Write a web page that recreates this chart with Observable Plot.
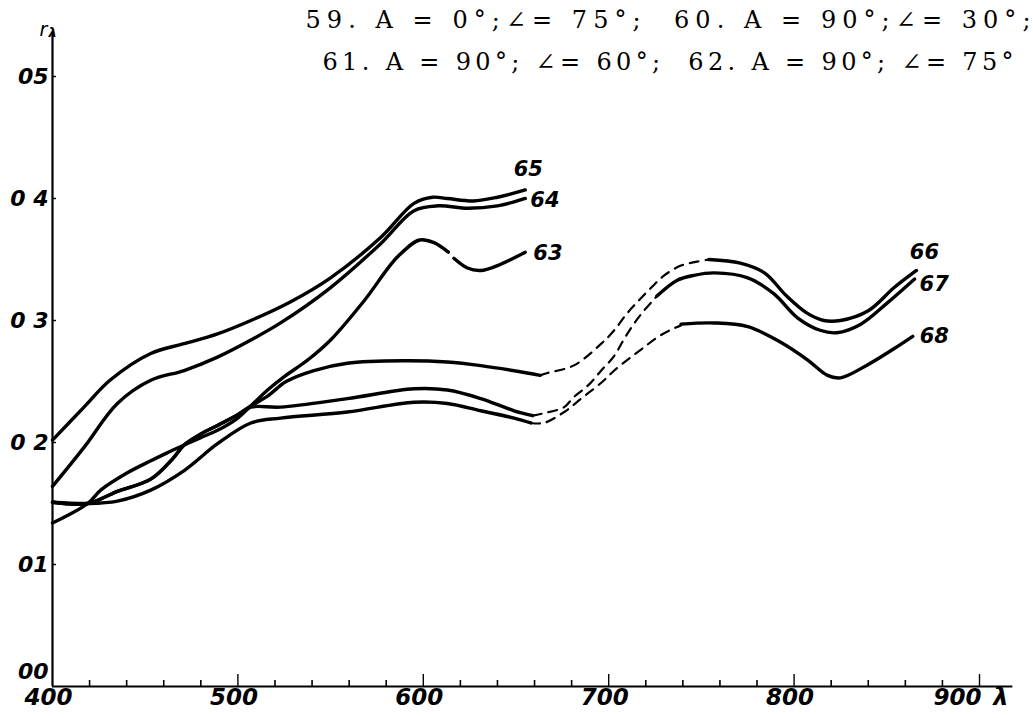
<!DOCTYPE html>
<html><head><meta charset="utf-8">
<script src="https://cdn.jsdelivr.net/npm/d3@7"></script>
<script src="https://cdn.jsdelivr.net/npm/@observablehq/plot@0.6"></script>
<style>html,body{margin:0;padding:0;background:#fff} #chart svg{display:block;background:#fff}</style>
</head><body><div id="chart"></div>
<script>
// ---- text ----
const titleLine1 = "59. A = 0°;∠= 75°;  60. A = 90°;∠= 30°;";
const titleLine2 = "61. A = 90°; ∠= 60°;  62. A = 90°; ∠= 75°";
const xMajorTicks = [400, 500, 600, 700, 800, 900];
const xMinorTicks = [420, 440, 460, 480, 520, 540, 560, 580, 620, 640, 660, 680, 720, 740, 760, 780, 820, 840, 860, 880];
const yTicks = [0.1, 0.2, 0.3, 0.4, 0.5];
const yTickLabels = ["01", "0 2", "0 3", "0 4", "05"];
const yZeroLabel = "00";

// ---- curves (wavelength nm, r) ----
const c65_wl = [400, 417, 431, 453, 471, 489, 507, 528, 550, 577, 595, 605, 613, 627, 640, 655];
const c65_r  = [0.202, 0.229, 0.251, 0.273, 0.281, 0.289, 0.300, 0.315, 0.335, 0.368, 0.396, 0.401, 0.400, 0.398, 0.401, 0.407];

const c64_wl = [400, 417, 435, 453, 471, 489, 507, 523, 550, 577, 595, 608, 624, 640, 655];
const c64_r  = [0.164, 0.196, 0.232, 0.251, 0.259, 0.270, 0.284, 0.298, 0.327, 0.363, 0.390, 0.394, 0.392, 0.394, 0.400];

const c63a_wl = [400, 419, 426, 439, 453, 464, 471, 480, 489, 499, 507, 516, 525, 538, 550, 568, 586, 598, 605.5, 613.5];
const c63a_r  = [0.134, 0.150, 0.161, 0.174, 0.185, 0.193, 0.198, 0.204, 0.210, 0.219, 0.230, 0.243, 0.254, 0.268, 0.284, 0.316, 0.352, 0.366, 0.364, 0.356];
const c63b_wl = [616.5, 623.8, 631, 640, 655];
const c63b_r  = [0.351, 0.343, 0.341, 0.345, 0.356];

const c66a_wl = [400, 419, 435, 453, 465, 471, 480, 489, 499, 507, 516, 526, 541, 559, 589, 613, 631, 656, 663];
const c66a_r  = [0.151, 0.150, 0.160, 0.170, 0.187, 0.198, 0.207, 0.214, 0.222, 0.230, 0.238, 0.250, 0.259, 0.265, 0.267, 0.266, 0.263, 0.257, 0.255];
const c66b_wl = [663, 667, 681, 696, 703, 710, 716, 723, 730, 739, 747, 754];
const c66b_r  = [0.255, 0.257, 0.263, 0.281, 0.292, 0.306, 0.316, 0.327, 0.337, 0.345, 0.348, 0.350];
const c66c_wl = [754, 771, 784, 796, 807, 816, 825, 840, 854, 866];
const c66c_r  = [0.350, 0.347, 0.339, 0.320, 0.306, 0.300, 0.300, 0.308, 0.327, 0.341];

const c67a_wl = [400, 419, 435, 453, 465, 471, 480, 489, 499, 507, 523, 559, 595, 613, 631, 649, 659];
const c67a_r  = [0.151, 0.150, 0.160, 0.170, 0.187, 0.198, 0.207, 0.214, 0.222, 0.229, 0.229, 0.236, 0.244, 0.243, 0.236, 0.226, 0.222];
const c67b_wl = [659, 665, 676, 681, 689, 696, 703, 708, 713, 719, 726];
const c67b_r  = [0.222, 0.224, 0.229, 0.237, 0.247, 0.259, 0.271, 0.284, 0.296, 0.308, 0.320];
const c67c_wl = [726, 737, 746, 757, 775, 789, 802, 814, 823, 836, 850, 865];
const c67c_r  = [0.320, 0.333, 0.337, 0.339, 0.335, 0.322, 0.302, 0.292, 0.290, 0.297, 0.314, 0.334];

const c68a_wl = [400, 419, 435, 453, 471, 489, 507, 523, 559, 595, 613, 631, 649, 658];
const c68a_r  = [0.151, 0.150, 0.152, 0.161, 0.177, 0.199, 0.216, 0.220, 0.225, 0.233, 0.232, 0.226, 0.220, 0.216];
const c68b_wl = [658, 665, 676, 686, 696, 703, 712, 719, 726, 733, 739];
const c68b_r  = [0.216, 0.216, 0.225, 0.237, 0.249, 0.259, 0.270, 0.278, 0.286, 0.292, 0.296];
const c68c_wl = [739, 757, 775, 793, 807, 818, 825, 840, 854, 864];
const c68c_r  = [0.297, 0.298, 0.295, 0.282, 0.268, 0.255, 0.253, 0.264, 0.277, 0.287];

// ---- build tables ----
const rows = (id, wl, r) => wl.map((w, i) => ({id, wl: w, r: r[i]}));
const solid = [
  ...rows("65", c65_wl, c65_r), ...rows("64", c64_wl, c64_r),
  ...rows("63a", c63a_wl, c63a_r), ...rows("63b", c63b_wl, c63b_r),
  ...rows("66a", c66a_wl, c66a_r), ...rows("66c", c66c_wl, c66c_r),
  ...rows("67a", c67a_wl, c67a_r), ...rows("67c", c67c_wl, c67c_r),
  ...rows("68a", c68a_wl, c68a_r), ...rows("68c", c68c_wl, c68c_r)
];
const dashed = [
  ...rows("66b", c66b_wl, c66b_r), ...rows("67b", c67b_wl, c67b_r), ...rows("68b", c68b_wl, c68b_r)
];
const last = (wl, r) => ({wl: wl[wl.length - 1], r: r[r.length - 1]});
const curveLabels = [
  {text: "65", ...last(c65_wl, c65_r), dx: 3, dy: -21, anchor: "middle"},
  {text: "64", ...last(c64_wl, c64_r), dx: 5, dy: 2, anchor: "start"},
  {text: "63", ...last(c63b_wl, c63b_r), dx: 8, dy: 1, anchor: "start"},
  {text: "66", ...last(c66c_wl, c66c_r), dx: 8, dy: -18, anchor: "middle"},
  {text: "67", ...last(c67c_wl, c67c_r), dx: 5, dy: 5, anchor: "start"},
  {text: "68", ...last(c68c_wl, c68c_r), dx: 7, dy: 0, anchor: "start"}
];

const W = 1033, H = 718;
const mL = 52, mR = 54, mT = 76, mB = 32;
const xAxisEnd = 918, yAxisEnd = 0.535;
const pxPerY = (H - mT - mB) / 0.5, pxPerX = (W - mL - mR) / 500;
const hand = "DejaVu Sans, sans-serif";
const handText = {fontFamily: hand, fontStyle: "italic", fontWeight: 600};

const marks = [
  // axes
  Plot.ruleY([0], {x1: 400, x2: xAxisEnd, strokeWidth: 2.2}),
  Plot.ruleX([400], {y1: 0, y2: yAxisEnd, strokeWidth: 2.2}),
  Plot.ruleX(xMinorTicks, {x: d => d, y1: 0, y2: 6 / pxPerY, strokeWidth: 1.6}),
  Plot.ruleX(xMajorTicks.slice(1), {x: d => d, y1: 0, y2: 12 / pxPerY, strokeWidth: 1.4}),
  Plot.ruleY(yTicks, {y: d => d, x1: 400, x2: 400 + 4 / pxPerX, strokeWidth: 1.4}),
  Plot.text(xMajorTicks.slice(0, -1), {x: d => d, text: d => String(d), frameAnchor: "bottom", dy: 18, dx: -4, ...handText, fontSize: 23}),
  Plot.text(xMajorTicks.slice(-1), {x: d => d, text: d => String(d), frameAnchor: "bottom", dy: 18, dx: -22, ...handText, fontSize: 23}),
  Plot.text(["λ"], {frameAnchor: "bottom-right", dx: 29, dy: 18, ...handText, fontSize: 24}),
  Plot.text(yTicks, {y: d => d, text: (d, i) => yTickLabels[i], frameAnchor: "left", dx: -4, textAnchor: "end", ...handText, fontSize: 22}),
  Plot.text([yZeroLabel], {frameAnchor: "bottom-left", dx: -4, dy: -8, textAnchor: "end", ...handText, fontSize: 22}),
  Plot.text(["r"], {frameAnchor: "top-left", dx: -13, dy: -54, fontFamily: hand, fontStyle: "italic", fontSize: 19}),
  Plot.text(["λ"], {frameAnchor: "top-left", dx: -4, dy: -49, fontFamily: hand, fontStyle: "italic", fontWeight: 700, fontSize: 13}),
  // title text
  Plot.text([titleLine1], {frameAnchor: "top-left", dx: 253, dy: -56, textAnchor: "start", lineAnchor: "middle",
    fontFamily: "DejaVu Serif, serif", fontSize: 24}),
  Plot.text([titleLine2], {frameAnchor: "top-left", dx: 270, dy: -14, textAnchor: "start", lineAnchor: "middle",
    fontFamily: "DejaVu Serif, serif", fontSize: 24}),
  // curves
  Plot.line(solid, {x: "wl", y: "r", z: "id", curve: "catmull-rom", stroke: "#000", strokeWidth: 3.4, strokeLinecap: "round"}),
  Plot.line(dashed, {x: "wl", y: "r", z: "id", curve: "catmull-rom", stroke: "#000", strokeWidth: 2.2, strokeDasharray: "9,7"}),
  ...curveLabels.map(l => Plot.text([l], {x: "wl", y: "r", text: "text", dx: l.dx, dy: l.dy, textAnchor: l.anchor,
    fontFamily: hand, fontStyle: "italic", fontWeight: 700, fontSize: 21}))
];

const chart = Plot.plot({
  width: W, height: H,
  marginLeft: mL, marginRight: mR, marginTop: mT, marginBottom: mB,
  x: {domain: [400, 900], axis: null},
  y: {domain: [0, 0.5], axis: null},
  style: {background: "#fff", color: "#000", overflow: "visible"},
  marks
});
document.getElementById("chart").append(chart);
// stretch the typewritten title lines to their measured widths
const titleWidths = new Map([[titleLine1, 725], [titleLine2, 691]]);
chart.querySelectorAll("text").forEach(t => {
  const w = titleWidths.get(t.textContent);
  if (w) { t.setAttribute("textLength", w); t.setAttribute("lengthAdjust", "spacing"); }
});
</script>
</body></html>
